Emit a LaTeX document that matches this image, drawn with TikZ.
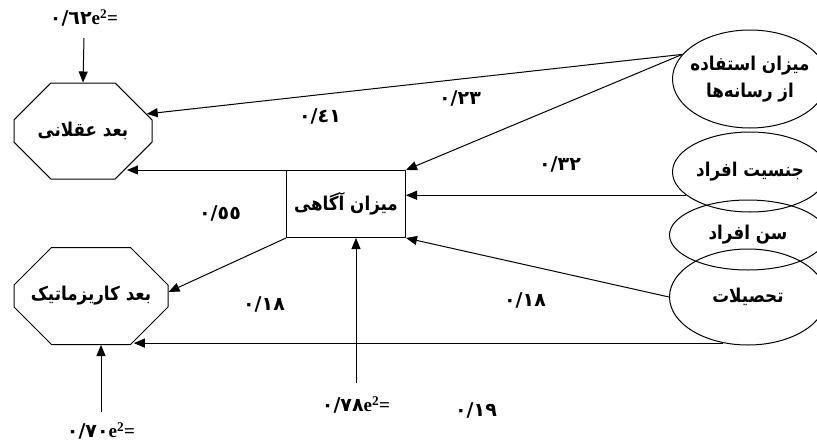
\documentclass[tikz,border=0pt]{standalone}
\usepackage{fontspec}
\setmainfont{Liberation Serif}
\newfontfamily\arabicfont[Script=Arabic]{DejaVu Sans}
\newfontfamily\farsifont[Script=Arabic, FakeStretch=0.88]{DejaVu Sans}
\TeXXeTstate=1
\usetikzlibrary{shapes.geometric,shapes.misc,arrows.meta}
% Persian text (right to left) and path coefficients
\newcommand{\fa}[1]{{\farsifont\bfseries\beginR #1\endR}}
\newcommand{\coef}[1]{{\arabicfont\bfseries #1}}
\newcommand{\errterm}[1]{{\arabicfont\bfseries #1}{\bfseries e\textsuperscript{2}=}}
\tikzset{
  octa/.style={chamfered rectangle, chamfered rectangle sep=28pt, draw, line width=1pt, inner xsep=-14pt, inner ysep=0pt},
  ovalbox/.style={ellipse, draw, line width=1pt, inner xsep=-16pt, inner ysep=0pt, minimum width=155pt},
  arr/.style={->, line width=1pt}
}
\begin{document}
\begin{tikzpicture}[x=1pt, y=-1pt, font=\fontsize{19}{23}\selectfont, line join=round, >={Triangle[length=11pt,width=9pt]}]
\useasboundingbox (0,0) rectangle (817,442);
% Vabaste (octagons) va miyanji (box)
\node[octa, minimum width=138pt, minimum height=96pt] (bdAql) at (83,131) {\fa{بعد عقلانی}};
\node[octa, minimum width=154pt, minimum height=97pt] (bdKar) at (91,296) {\fa{بعد کاریزماتیک}};
\node[draw, line width=1pt, inner sep=0pt, minimum width=119pt, minimum height=67pt] (agahi) at (346,204) {\fa{میزان آگاهی}};
% Motaghayerhaye mostaghel (ellipses)
\node[ovalbox, minimum height=98pt, align=center] (rasane) at (750,79) {\fa{میزان استفاده}\\[4pt]\fa{از رسانه‌ها}};
\node[ovalbox, minimum height=80pt] (jensiat) at (750,172) {\fa{جنسیت افراد}};
\node[ovalbox, minimum height=70pt, minimum width=157pt] (senn) at (748,235) {\fa{سن افراد}};
\node[ovalbox, minimum height=96pt, minimum width=157pt] (tahsil) at (748,297) {\fa{تحصیلات}};
% Zarayeb
\node (e62) at (84,18) {\errterm{٠/٦٢}};
\node (c41) at (320,116) {\coef{٠/٤١}};
\node (c23) at (460,98) {\coef{٠/٢٣}};
\node (c32) at (560,164) {\coef{٠/٣٢}};
\node (c55) at (220,213) {\coef{٠/٥٥}};
\node (c18a) at (264,304) {\coef{٠/١٨}};
\node (c18b) at (525,300) {\coef{٠/١٨}};
\node (e78) at (356,405) {\errterm{٠/٧٨}};
\node (c19) at (476,410) {\coef{٠/١٩}};
\node (e70) at (101,431) {\errterm{٠/٧٠}};
% Masirha
\draw[arr] (rasane.160) -- (bdAql.15);
\draw[arr] (rasane.160) -- (agahi.north east);
\draw[arr] (jensiat.200) -- (jensiat.200 -| agahi.east);
\draw[arr] (tahsil.west) -- (agahi.south east);
\draw[arr] (agahi.north west) -- (agahi.north west -| bdAql.-40);
\draw[arr] (agahi.south west) -- (bdKar.3);
\draw[arr] (tahsil.-118) -- (tahsil.-118 -| bdKar.-47);
% Khata
\draw[arr] ([yshift=-20pt]e62.center) -- (bdAql.north);
\draw[arr] ([yshift=19pt]e70.center) -- (e70.center |- bdKar.south);
\draw[arr] ([yshift=22pt]e78.center) -- (e78.center |- agahi.south);
\end{tikzpicture}
\end{document}
